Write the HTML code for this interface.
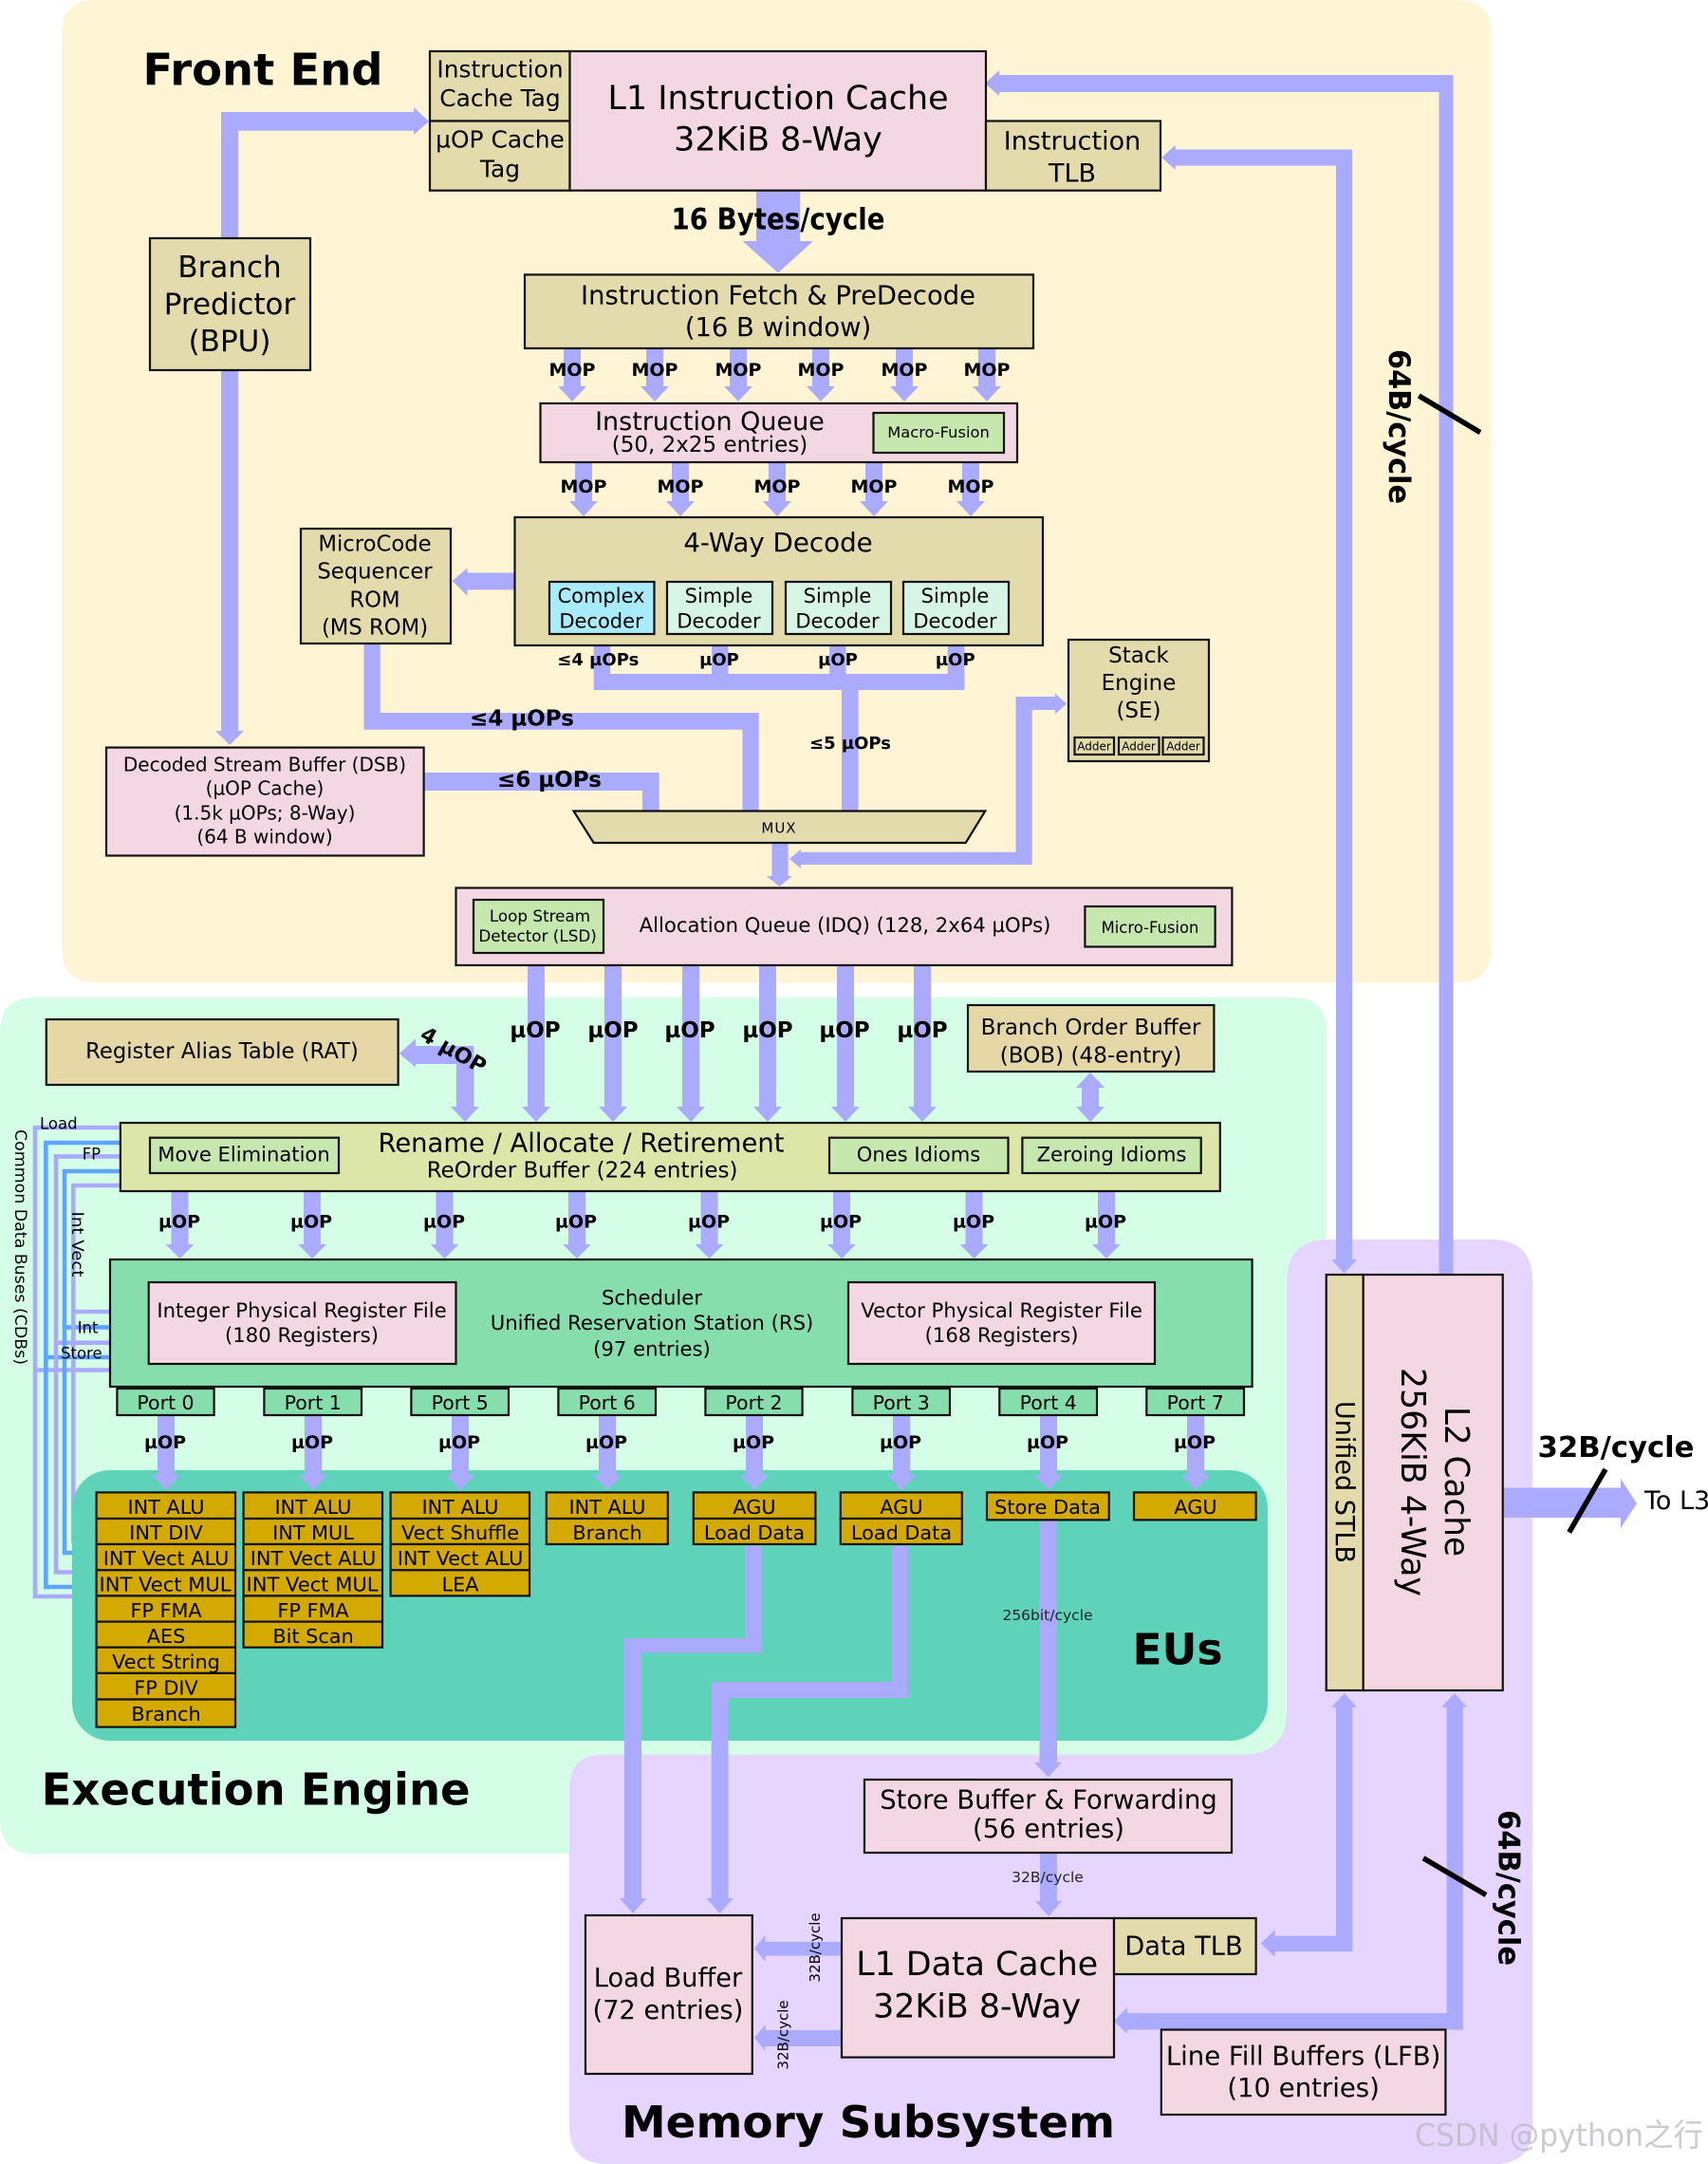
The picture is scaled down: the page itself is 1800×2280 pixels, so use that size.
<!DOCTYPE html>
<html><head><meta charset="utf-8"><title>Skylake diagram</title>
<style>
html,body{margin:0;padding:0;background:#fff}
svg{display:block}
text{font-family:"DejaVu Sans","Liberation Sans","Noto Sans CJK SC",sans-serif;fill:#000;text-anchor:middle}
.s{text-anchor:start}
.b{font-weight:bold}
.box rect,.box polygon{stroke:#111;stroke-width:2.2}
.t{fill:#e3dbab}.p{fill:#f3d7e3}.g{fill:#c6e8ae}.d{fill:#d6f5e5}.o{fill:#d4aa00}.m{fill:#87dead}
.a path{fill:#aaaaff}
.l{fill:none;stroke:#aaaaff;stroke-width:4.6}
.u{fill:none;stroke:#5fa5ff;stroke-width:4.6}
</style></head><body>
<svg xmlns="http://www.w3.org/2000/svg" width="1800" height="2280" viewBox="0 0 1800 2280">
<!-- backgrounds -->
<path d="M101 0H1535Q1571.5 0 1571.5 36V999Q1571.5 1035.3 1535 1035.3H101Q65.5 1035.3 65.5 999V36Q65.5 0 101 0Z" fill="#fff5d5"/>
<path d="M36 1051H1362Q1398 1051 1398 1087V1855H645V1900H600V1953H36Q0 1953 0 1917V1087Q0 1051 36 1051Z" fill="#d4ffe6"/>
<path d="M636 1848.6H1310Q1356 1848.6 1356 1802V1350Q1356 1306 1400 1306H1571Q1615 1306 1615 1350V2240Q1615 2280 1575 2280H640Q600 2280 600 2240V1885Q600 1848.6 636 1848.6Z" fill="#e5d5ff"/>
<!-- CDB lines -->
<path class="l" d="M127 1188H37V1682H80M37 1443.5H116"/>
<path class="u" d="M127 1204H48.3V1672H80M48.3 1430H116"/>
<path class="l" d="M127 1218.4H59V1656.5H80M59 1414.7H116"/>
<path class="u" d="M127 1234H68V1636H80M68 1398.4H116"/>
<path class="l" d="M127 1249H77.3V1623H80M77.3 1382H116"/>
<rect x="76" y="1549" width="1260" height="285" rx="40" fill="#5fd3b9"/>
<!-- arrows -->
<g class="a">
<path d="M233 251V118H436V113L452 128L436 142V137.7H251V251Z"/>
<path d="M233 390h18v380h6l-15 15-15-15h6z"/>
<path d="M797 200H843V254H857L820 287.5L782.5 254H797Z"/>
<path d="M594 367h18v40h6l-15 16-15-16h6z"/><path d="M681 367h18v40h6l-15 16-15-16h6z"/><path d="M769 367h18v40h6l-15 16-15-16h6z"/><path d="M856 367h18v40h6l-15 16-15-16h6z"/><path d="M944 367h18v40h6l-15 16-15-16h6z"/><path d="M1031 367h18v40h6l-15 16-15-16h6z"/>
<path d="M606 487h18v41h6l-15 16-15-16h6z"/><path d="M708 487h18v41h6l-15 16-15-16h6z"/><path d="M810 487h18v41h6l-15 16-15-16h6z"/><path d="M912 487h18v41h6l-15 16-15-16h6z"/><path d="M1014 487h18v41h6l-15 16-15-16h6z"/>
<path d="M542.5 603.5V621.4H492.5V627.7L476.5 612L492.5 598.6V603.5Z"/>
<path d="M625.7 680H643V710H750V680H767.5V710H874V680H891.5V710H998.7V680H1016.5V727H904.6V854.5H887V727H625.7Z"/>
<path d="M383.5 678H400.7V751H799.7V854.5H782.5V768.7H383.5Z"/>
<path d="M446 814H694.6V854.5H677V833H446Z"/>
<path d="M813.4 888H830.6V923H835L821.5 934L807.6 923H813.4Z"/>
<path d="M1124 741.6L1112 730.5V734H1070.5V897.7H844V894.8L832 905L844 915V911H1087.7V748H1112V752.3Z"/>
<path d="M556 1017h18v149h6l-15 16-15-16h6z"/><path d="M637 1017h18v149h6l-15 16-15-16h6z"/><path d="M719 1017h18v149h6l-15 16-15-16h6z"/><path d="M800 1017h18v149h6l-15 16-15-16h6z"/><path d="M882 1017h18v149h6l-15 16-15-16h6z"/><path d="M963 1017h18v149h6l-15 16-15-16h6z"/>
<path d="M420.8 1110L438 1094.5V1102H499.4V1166H505L490 1182L475 1166H481V1121H438V1124.5Z"/>
<path d="M1149 1130L1164 1146H1158V1166H1164L1149 1182L1134 1166H1140V1146H1134Z"/>
<path d="M180.5 1255h18v56h6l-15 15-15-15h6z"/><path d="M320 1255h18v56h6l-15 15-15-15h6z"/><path d="M459.5 1255h18v56h6l-15 15-15-15h6z"/><path d="M599 1255h18v56h6l-15 15-15-15h6z"/><path d="M738.5 1255h18v56h6l-15 15-15-15h6z"/><path d="M878 1255h18v56h6l-15 15-15-15h6z"/><path d="M1017.5 1255h18v56h6l-15 15-15-15h6z"/><path d="M1157 1255h18v56h6l-15 15-15-15h6z"/>
<path d="M166 1491h18v63h6l-15 16-15-16h6z"/><path d="M321 1491h18v63h6l-15 16-15-16h6z"/><path d="M476 1491h18v63h6l-15 16-15-16h6z"/><path d="M631 1491h18v63h6l-15 16-15-16h6z"/><path d="M786 1491h18v63h6l-15 16-15-16h6z"/><path d="M941 1491h18v63h6l-15 16-15-16h6z"/><path d="M1096 1491h18v63h6l-15 16-15-16h6z"/><path d="M1251 1491h18v63h6l-15 16-15-16h6z"/>
<path d="M785 1628.6H802.5V1741.5H676V2000H681L667 2016L653 2000H658V1726H785Z"/>
<path d="M940 1628.6H957V1789H767.5V2000H772.7L758.6 2016L744.5 2000H749.7V1772H940Z"/>
<path d="M1095.5 1601H1114V1857H1119L1104.7 1872.4L1090 1857H1095.5Z"/>
<path d="M1096 1952h18v51h5l-14 16-14-16h5z"/>
<path d="M887 2046V2060.5H806.5V2066.8L795 2053L806.5 2038.7V2046Z"/>
<path d="M887 2139V2156H806.5V2161L795 2147L806.5 2133V2139Z"/>
<path d="M1416.8 1784L1430 1798.7H1425.3V2056H1343.7V2062L1328.8 2047.8L1343.7 2033V2039.6H1408V1798.7H1403Z"/>
<path d="M1533 1784L1546 1798.7H1541.8V2138.5H1188V2143L1174 2129.5L1188 2115V2121H1524.6V1798.7H1519Z"/>
<path d="M1224.3 166L1238.7 152.7V157.5H1425V1327H1430L1416.5 1341.7L1403 1327H1408V174.5H1238.7V179Z"/>
<path d="M1038 88L1053 74V79H1531.5V1343H1516.5V97H1053V101Z"/>
<path d="M1583.7 1567.5H1708V1558L1725 1584L1708 1610V1599H1583.7Z"/>
</g>
<!-- boxes -->
<g class="box">
<rect class="t" x="453" y="54" width="147.5" height="73.5"/>
<rect class="t" x="453" y="127.5" width="147.5" height="73.2"/>
<rect class="p" x="600.5" y="54" width="438.5" height="146.7"/>
<rect class="t" x="1039" y="127.5" width="184" height="73.2"/>
<rect class="t" x="158" y="251" width="169" height="139"/>
<rect class="t" x="553" y="289.4" width="536" height="77.6"/>
<rect class="p" x="569.5" y="425" width="502.5" height="62"/>
<rect class="g" x="920.5" y="435" width="137.5" height="42"/>
<rect class="t" x="542.5" y="545" width="556.5" height="135"/>
<rect x="579" y="613" width="110.5" height="55" fill="#a8ecfb"/>
<rect class="d" x="703" y="613" width="111" height="55"/>
<rect class="d" x="828" y="613" width="111" height="55"/>
<rect class="d" x="952" y="613" width="111" height="55"/>
<rect class="t" x="317" y="557" width="158" height="121"/>
<rect class="t" x="1126" y="674" width="148" height="128"/>
<rect class="t" x="1132.5" y="777" width="41.5" height="18"/><rect class="t" x="1179" y="777" width="42.5" height="18"/><rect class="t" x="1225.5" y="777" width="43" height="18"/>
<rect class="p" x="112" y="787.6" width="334.6" height="113.9"/>
<polygon class="t" points="604.5,854.5 1038.3,854.5 1017.7,888 625.7,888"/>
<rect class="p" x="480.5" y="935.5" width="817.9" height="81.5"/>
<rect class="g" x="499" y="948" width="137" height="56"/>
<rect class="g" x="1143.4" y="955" width="137.2" height="42.5"/>
<rect x="48.8" y="1074" width="370.8" height="69" fill="#e6d8a6"/>
<rect x="1020" y="1059" width="259.4" height="70" fill="#e6d8a6"/>
<rect x="126.9" y="1183" width="1158.9" height="72" fill="#dce6a8"/>
<rect class="g" x="158" y="1198.7" width="199" height="37.3"/>
<rect class="g" x="874" y="1198.7" width="188.5" height="37.3"/>
<rect class="g" x="1077.4" y="1198.7" width="188.3" height="37.3"/>
<rect class="m" x="116" y="1327" width="1203.6" height="134"/>
<rect class="p" x="156.7" y="1351" width="323.8" height="86"/>
<rect class="p" x="894" y="1351" width="323" height="86"/>
<rect class="m" x="123.4" y="1463" width="102.2" height="28"/><rect class="m" x="278.4" y="1463" width="102.6" height="28"/><rect class="m" x="433.4" y="1463" width="102.6" height="28"/><rect class="m" x="588.4" y="1463" width="102.6" height="28"/><rect class="m" x="743.4" y="1463" width="102.2" height="28"/><rect class="m" x="898.4" y="1463" width="102.6" height="28"/><rect class="m" x="1053.3" y="1463" width="102.7" height="28"/><rect class="m" x="1208.3" y="1463" width="102.7" height="28"/>
<!-- EU col 1 -->
<rect class="o" x="101.6" y="1572.4" width="146.4" height="27.6"/><rect class="o" x="101.6" y="1600" width="146.4" height="27"/><rect class="o" x="101.6" y="1627" width="146.4" height="27.3"/><rect class="o" x="101.6" y="1654.3" width="146.4" height="27.1"/><rect class="o" x="101.6" y="1681.4" width="146.4" height="27.2"/><rect class="o" x="101.6" y="1708.6" width="146.4" height="27.1"/><rect class="o" x="101.6" y="1735.7" width="146.4" height="27.2"/><rect class="o" x="101.6" y="1762.9" width="146.4" height="27.6"/><rect class="o" x="101.6" y="1790.5" width="146.4" height="29.1"/>
<!-- col 2 -->
<rect class="o" x="256.6" y="1572.4" width="146.4" height="27.6"/><rect class="o" x="256.6" y="1600" width="146.4" height="27"/><rect class="o" x="256.6" y="1627" width="146.4" height="27.3"/><rect class="o" x="256.6" y="1654.3" width="146.4" height="27.1"/><rect class="o" x="256.6" y="1681.4" width="146.4" height="27.2"/><rect class="o" x="256.6" y="1708.6" width="146.4" height="27.1"/>
<!-- col 3 -->
<rect class="o" x="411.6" y="1572.4" width="146.4" height="27.6"/><rect class="o" x="411.6" y="1600" width="146.4" height="27"/><rect class="o" x="411.6" y="1627" width="146.4" height="27.3"/><rect class="o" x="411.6" y="1654.3" width="146.4" height="27.1"/>
<!-- col 4,5,6 -->
<rect class="o" x="575.8" y="1572.4" width="128" height="27.6"/><rect class="o" x="575.8" y="1600" width="128" height="27"/>
<rect class="o" x="730.8" y="1572.4" width="128.6" height="27.6"/><rect class="o" x="730.8" y="1600" width="128.6" height="27"/>
<rect class="o" x="885.8" y="1572.4" width="128" height="27.6"/><rect class="o" x="885.8" y="1600" width="128" height="27"/>
<rect class="o" x="1040" y="1572.4" width="128.7" height="29"/>
<rect class="o" x="1195" y="1572.4" width="128.6" height="29"/>
<!-- L2 / memory -->
<rect class="t" x="1397.7" y="1343" width="39" height="438"/>
<rect class="p" x="1436.7" y="1343" width="147" height="438"/>
<rect class="p" x="911" y="1875" width="387" height="77"/>
<rect class="p" x="887" y="2021" width="287" height="146.6"/>
<rect class="t" x="1174" y="2021" width="149.6" height="59"/>
<rect class="p" x="1223.8" y="2138.5" width="299.6" height="89.5"/>
<rect class="p" x="617" y="2018" width="175.8" height="167"/>
</g>
<!-- slashes -->
<g stroke="#000" stroke-width="5.5">
<line x1="1495.3" y1="417" x2="1560" y2="455.6"/>
<line x1="1692" y1="1548" x2="1653.7" y2="1614.5"/>
<line x1="1500" y1="1957.7" x2="1566" y2="1996.5"/>
</g>
<!-- front end text -->
<text class="b s" x="150.5" y="89.7" font-size="46" textLength="253" lengthAdjust="spacingAndGlyphs">Front End</text>
<g font-size="24.9"><text x="527" y="81.4">Instruction</text><text x="527" y="112">Cache Tag</text><text x="527" y="155.6">µOP Cache</text><text x="527" y="186.6">Tag</text></g>
<g font-size="34.9"><text x="820" y="115">L1 Instruction Cache</text><text x="820" y="158.5">32KiB 8-Way</text></g>
<g font-size="27"><text x="1130" y="157.5">Instruction</text><text x="1130" y="191.5">TLB</text></g>
<text class="b" x="820" y="241.4" font-size="31" textLength="225" lengthAdjust="spacingAndGlyphs">16 Bytes/cycle</text>
<g font-size="31"><text x="242" y="292">Branch</text><text x="242" y="331">Predictor</text><text x="242" y="370">(BPU)</text></g>
<g font-size="27.4"><text x="820" y="320.4">Instruction Fetch &amp; PreDecode</text><text x="820" y="353.8">(16 B window)</text></g>
<g font-size="19" class="b"><text x="603" y="396">MOP</text><text x="690" y="396">MOP</text><text x="778" y="396">MOP</text><text x="865" y="396">MOP</text><text x="953" y="396">MOP</text><text x="1040" y="396">MOP</text>
<text x="615" y="519">MOP</text><text x="717" y="519">MOP</text><text x="819" y="519">MOP</text><text x="921" y="519">MOP</text><text x="1023" y="519">MOP</text></g>
<text x="748" y="453" font-size="27">Instruction Queue</text>
<text x="748" y="476" font-size="23">(50, 2x25 entries)</text>
<text x="989" y="461" font-size="16.3">Macro-Fusion</text>
<text x="820" y="581.2" font-size="27.7">4-Way Decode</text>
<g font-size="21"><text x="633.5" y="635">Complex</text><text x="633.5" y="661.6">Decoder</text><text x="757.5" y="635">Simple</text><text x="757.5" y="661.6">Decoder</text><text x="882.5" y="635">Simple</text><text x="882.5" y="661.6">Decoder</text><text x="1006.5" y="635">Simple</text><text x="1006.5" y="661.6">Decoder</text></g>
<g font-size="22.7"><text x="395" y="580.5">MicroCode</text><text x="395" y="609.5">Sequencer</text><text x="395" y="639.5">ROM</text><text x="395" y="668.5">(MS ROM)</text></g>
<g font-size="18" class="b"><text x="630.3" y="701">≤4 µOPs</text><text x="758" y="701">µOP</text><text x="883" y="701">µOP</text><text x="1006.8" y="701">µOP</text><text x="896" y="789">≤5 µOPs</text></g>
<text class="b" x="550" y="764.5" font-size="23">≤4 µOPs</text>
<text class="b" x="579" y="829" font-size="23">≤6 µOPs</text>
<g font-size="20"><text x="279" y="812.5">Decoded Stream Buffer (DSB)</text><text x="279" y="837.5">(µOP Cache)</text><text x="279" y="863.5">(1.5k µOPs; 8-Way)</text><text x="279" y="888.5">(64 B window)</text></g>
<text x="821" y="877.5" font-size="15" letter-spacing="1">MUX</text>
<g font-size="23"><text x="1200" y="697.8">Stack</text><text x="1200" y="727">Engine</text><text x="1200" y="756">(SE)</text></g>
<g font-size="12"><text x="1153" y="790.5">Adder</text><text x="1200" y="790.5">Adder</text><text x="1247" y="790.5">Adder</text></g>
<g font-size="16.8"><text x="569" y="971">Loop Stream</text><text x="566.6" y="992">Detector (LSD)</text></g>
<text x="890.5" y="982" font-size="21.2">Allocation Queue (IDQ) (128, 2x64 µOPs)</text>
<text x="1212" y="983" font-size="16.4">Micro-Fusion</text>
<!-- exec -->
<text x="234" y="1115" font-size="22.7">Register Alias Table (RAT)</text>
<g font-size="23" class="b"><text x="564" y="1093">µOP</text><text x="646" y="1093">µOP</text><text x="727" y="1093">µOP</text><text x="809" y="1093">µOP</text><text x="890" y="1093">µOP</text><text x="972" y="1093">µOP</text></g>
<text class="b" font-size="22.5" transform="translate(474,1113) rotate(30)">4 µOP</text>
<g font-size="23.1"><text x="1149.5" y="1090">Branch Order Buffer</text><text x="1149.5" y="1119.5">(BOB) (48-entry)</text></g>
<text x="612.5" y="1213.5" font-size="27.4">Rename / Allocate / Retirement</text>
<text x="613.6" y="1240.5" font-size="23">ReOrder Buffer (224 entries)</text>
<g font-size="21.1"><text x="257" y="1223.4">Move Elimination</text><text x="968" y="1223.4">Ones Idioms</text><text x="1171.5" y="1223.4">Zeroing Idioms</text></g>
<g font-size="19" class="b"><text x="189" y="1293.5">µOP</text><text x="328" y="1293.5">µOP</text><text x="468" y="1293.5">µOP</text><text x="607" y="1293.5">µOP</text><text x="747" y="1293.5">µOP</text><text x="886" y="1293.5">µOP</text><text x="1026" y="1293.5">µOP</text><text x="1165" y="1293.5">µOP</text></g>
<g font-size="21.2"><text x="318" y="1388">Integer Physical Register File</text><text x="318" y="1414">(180 Registers)</text><text x="1055.6" y="1388">Vector Physical Register File</text><text x="1055.6" y="1414">(168 Registers)</text><text x="687" y="1374.6">Scheduler</text><text x="687" y="1401">Unified Reservation Station (RS)</text><text x="687" y="1428.5">(97 entries)</text></g>
<g font-size="20.5"><text x="174.5" y="1485">Port 0</text><text x="329.7" y="1485">Port 1</text><text x="484.7" y="1485">Port 5</text><text x="639.7" y="1485">Port 6</text><text x="794.5" y="1485">Port 2</text><text x="949.7" y="1485">Port 3</text><text x="1104.7" y="1485">Port 4</text><text x="1259.7" y="1485">Port 7</text></g>
<g font-size="19" class="b"><text x="174" y="1526">µOP</text><text x="329" y="1526">µOP</text><text x="484" y="1526">µOP</text><text x="639" y="1526">µOP</text><text x="794" y="1526">µOP</text><text x="949" y="1526">µOP</text><text x="1104" y="1526">µOP</text><text x="1259" y="1526">µOP</text></g>
<g font-size="20.8">
<text x="175" y="1595">INT ALU</text><text x="175" y="1622">INT DIV</text><text x="175" y="1649">INT Vect ALU</text><text x="174" y="1676.5" textLength="139" lengthAdjust="spacingAndGlyphs">INT Vect MUL</text><text x="175" y="1703.8">FP FMA</text><text x="175" y="1731">AES</text><text x="175" y="1758">Vect String</text><text x="175" y="1785.3">FP DIV</text><text x="175" y="1813">Branch</text>
<text x="330" y="1595">INT ALU</text><text x="330" y="1622">INT MUL</text><text x="330" y="1649">INT Vect ALU</text><text x="329" y="1676.5" textLength="139" lengthAdjust="spacingAndGlyphs">INT Vect MUL</text><text x="330" y="1703.8">FP FMA</text><text x="330" y="1731">Bit Scan</text>
<text x="485" y="1595">INT ALU</text><text x="485" y="1622">Vect Shuffle</text><text x="485" y="1649">INT Vect ALU</text><text x="485" y="1676.5">LEA</text>
<text x="640" y="1595">INT ALU</text><text x="640" y="1622">Branch</text>
<text x="795" y="1595">AGU</text><text x="795" y="1622">Load Data</text>
<text x="950" y="1595">AGU</text><text x="950" y="1622">Load Data</text>
<text x="1104" y="1595" textLength="112" lengthAdjust="spacingAndGlyphs">Store Data</text>
<text x="1260" y="1595">AGU</text>
</g>
<text x="1104" y="1707" font-size="15.5" style="fill:#222">256bit/cycle</text>
<text class="b" x="1241" y="1753.6" font-size="45.5">EUs</text>
<text class="b s" x="43.6" y="1901.5" font-size="46" textLength="452" lengthAdjust="spacingAndGlyphs">Execution Engine</text>
<text class="b s" x="655" y="2252" font-size="46" textLength="520" lengthAdjust="spacingAndGlyphs">Memory Subsystem</text>
<!-- CDB labels -->
<text font-size="17.3" transform="translate(16,1190) rotate(90)" class="s" textLength="248" lengthAdjust="spacingAndGlyphs">Common Data Buses (CDBs)</text>
<text font-size="16.5" transform="translate(76,1276.5) rotate(90)" class="s" textLength="69" lengthAdjust="spacingAndGlyphs">Int Vect</text>
<g font-size="16.5"><text class="s" x="42" y="1189.5">Load</text><text class="s" x="86.7" y="1221.5">FP</text><text class="s" x="81.7" y="1404.5">Int</text><text class="s" x="64" y="1431.5">Store</text></g>
<!-- memory -->
<g font-size="27.4"><text x="1105" y="1905.4">Store Buffer &amp; Forwarding</text><text x="1105" y="1936">(56 entries)</text></g>
<text x="1104" y="1983" font-size="15.5" style="fill:#222">32B/cycle</text>
<g font-size="34.8"><text x="1029.7" y="2081">L1 Data Cache</text><text x="1029.7" y="2125.4">32KiB 8-Way</text></g>
<text x="1247.5" y="2059.5" font-size="27.3">Data TLB</text>
<g font-size="27.5"><text x="1373.6" y="2175.4">Line Fill Buffers (LFB)</text><text x="1373.6" y="2209">(10 entries)</text></g>
<g font-size="27.2"><text x="704" y="2093">Load Buffer</text><text x="704" y="2127">(72 entries)</text></g>
<text font-size="15" transform="translate(864,2052) rotate(-90)">32B/cycle</text>
<text font-size="15" transform="translate(830.6,2144) rotate(-90)">32B/cycle</text>
<text class="s" x="1733" y="1590" font-size="27">To L3</text>
<text class="b s" x="1620.5" y="1535" font-size="30" textLength="165" lengthAdjust="spacingAndGlyphs">32B/cycle</text>
<text class="b s" font-size="31.5" transform="translate(1464,368) rotate(90)" textLength="163" lengthAdjust="spacingAndGlyphs">64B/cycle</text>
<text class="b s" font-size="31.5" transform="translate(1579.5,1907) rotate(90)" textLength="164" lengthAdjust="spacingAndGlyphs">64B/cycle</text>
<text class="s" font-size="36" transform="translate(1523,1482) rotate(90)" textLength="158" lengthAdjust="spacingAndGlyphs">L2 Cache</text>
<text class="s" font-size="36" transform="translate(1477,1441) rotate(90)" textLength="241" lengthAdjust="spacingAndGlyphs">256KiB 4-Way</text>
<text class="s" font-size="28" transform="translate(1408,1476) rotate(90)" textLength="171" lengthAdjust="spacingAndGlyphs">Unified STLB</text>
<text class="s" x="1491" y="2261" font-size="33" textLength="304" lengthAdjust="spacingAndGlyphs" style="font-family:'DejaVu Sans','Noto Sans CJK SC',sans-serif;fill:#b8b8c0;fill-opacity:.75">CSDN @python之行</text>
</svg>
</body></html>
